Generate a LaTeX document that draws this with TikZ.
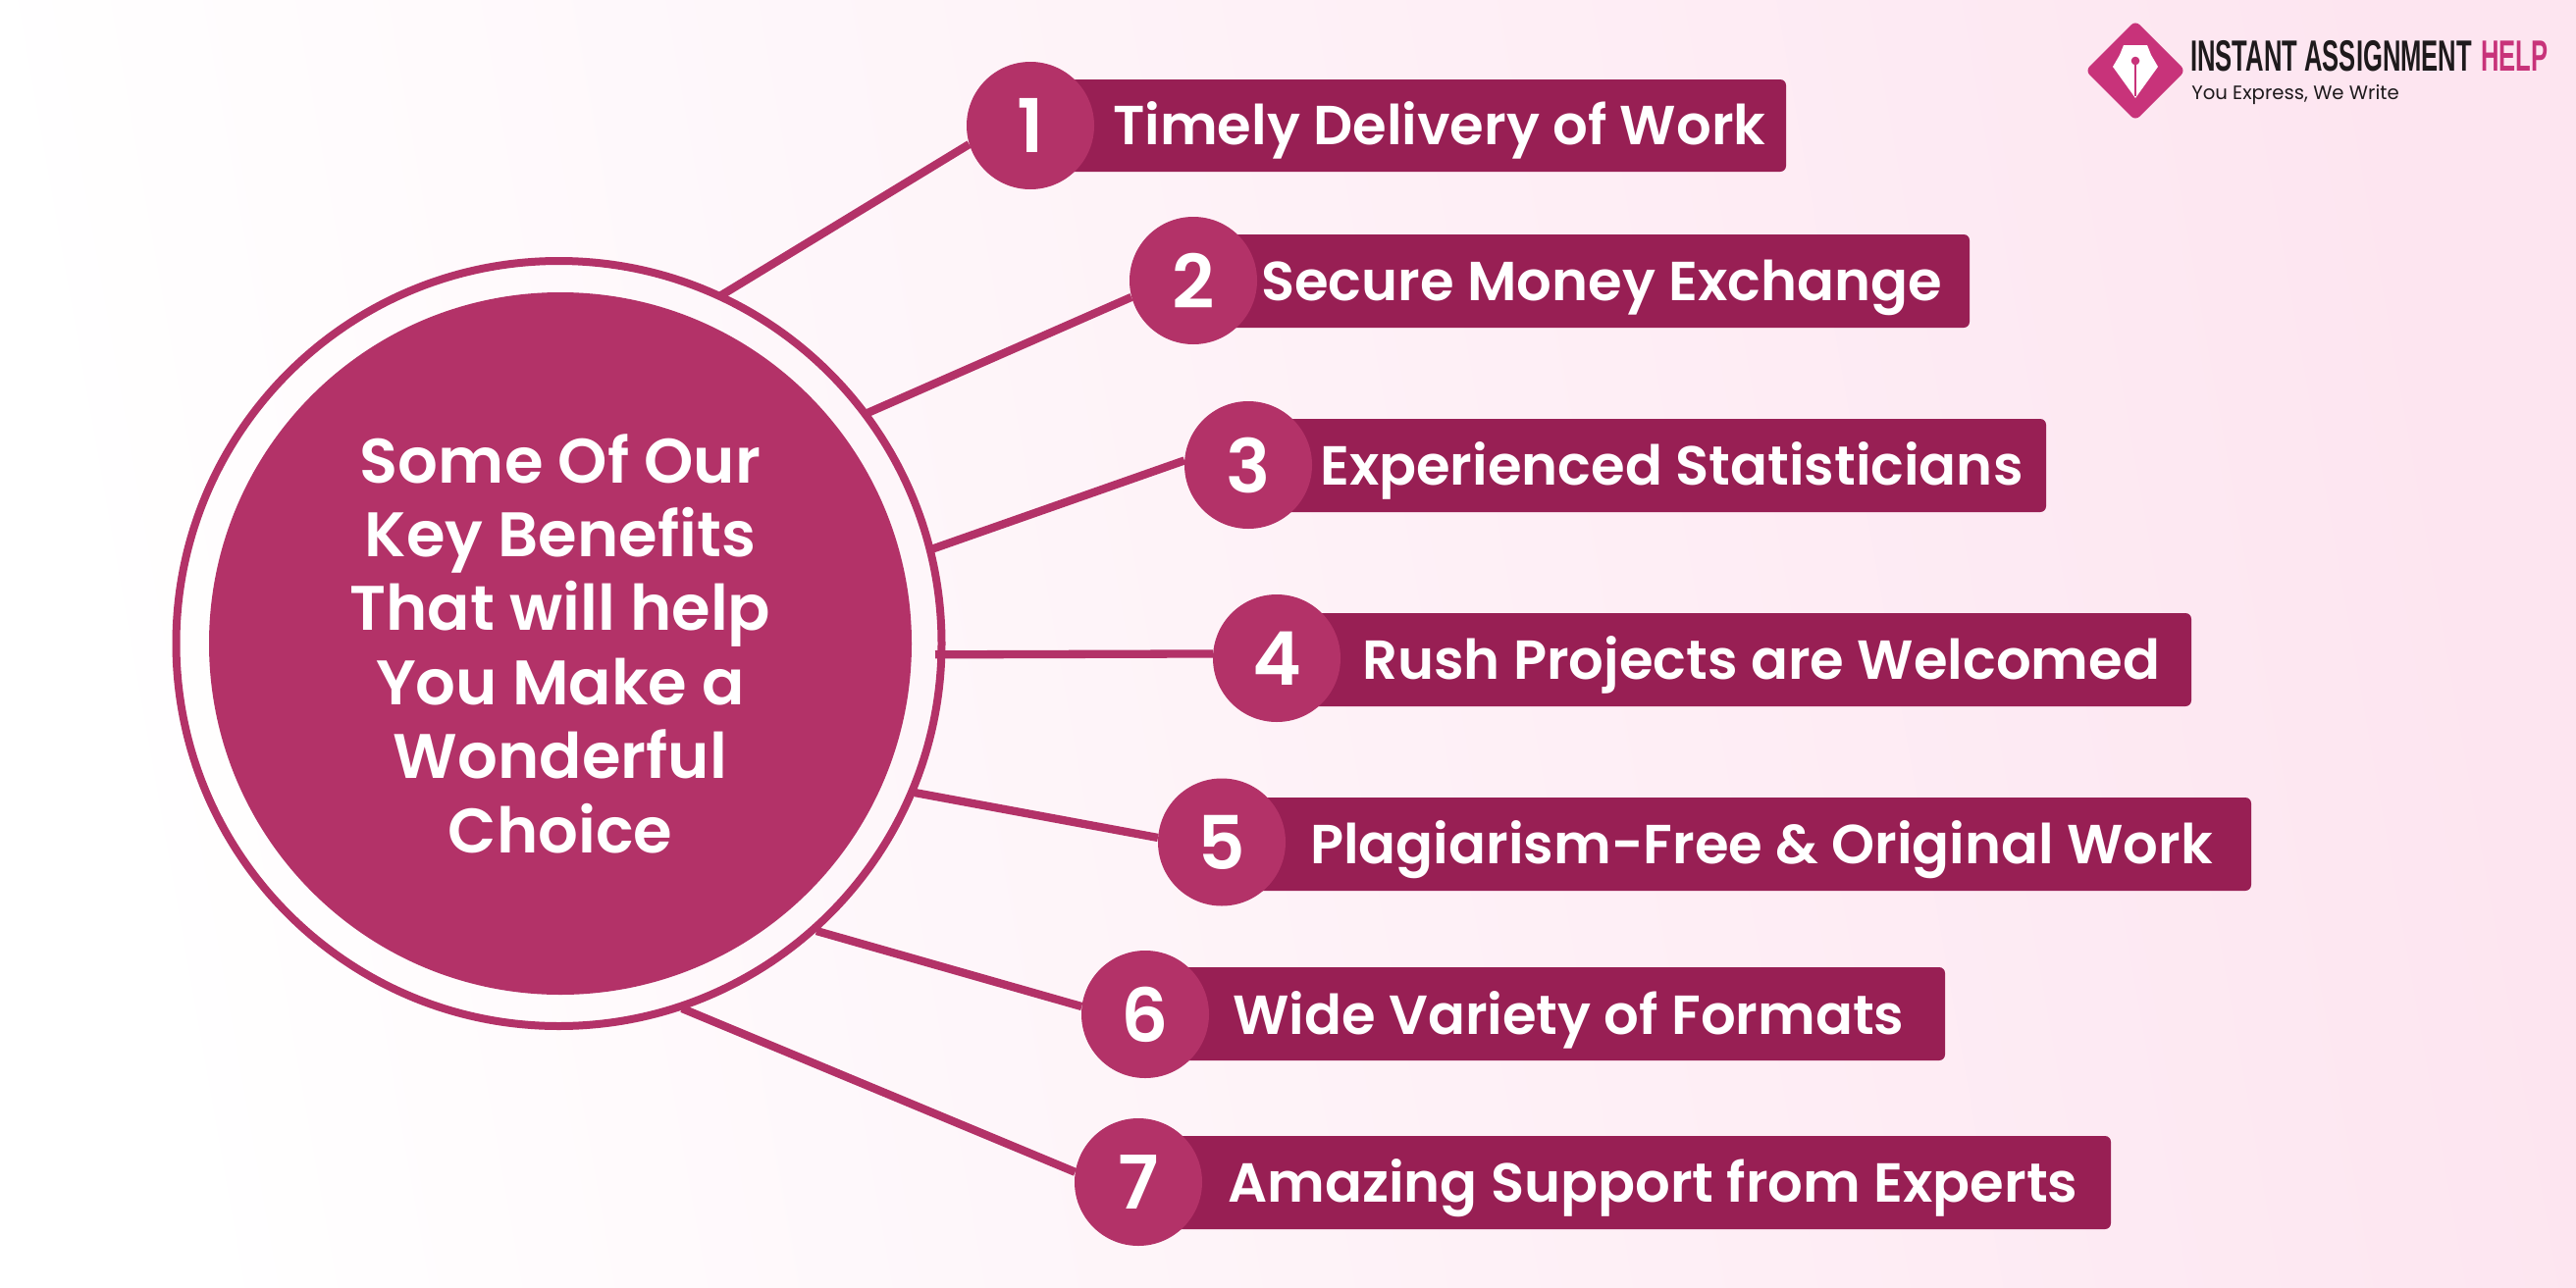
\documentclass[tikz,border=0pt]{standalone}
\usepackage{fontspec}
\setmainfont{Poppins SemiBold}
\newfontfamily\logofont[FakeStretch=0.575]{Liberation Sans Bold}
\newfontfamily\subfont{Poppins}
\definecolor{circ}{HTML}{B33268}
\definecolor{barc}{HTML}{981F54}
\definecolor{logoc}{HTML}{C8337A}
\definecolor{bgend}{HTML}{FDE5F0}
\definecolor{ink}{HTML}{1E1A1C}
\def\pxl{0.03cm}
\tikzset{
  x=0.03cm,y=-0.03cm,
  numnode/.style={circle,fill=circ,draw=none,minimum size=130*\pxl,inner sep=0pt,text=white,font=\fontsize{64.5}{64.5}\selectfont},
  barbox/.style={fill=barc,rounded corners=6*\pxl},
  barlabel/.style={anchor=base west,inner sep=0pt,text=white,font=\fontsize{47.85}{50}\selectfont},
  link/.style={draw=circ,line width=8.3*\pxl},
  hubnode/.style={circle,fill=circ,minimum size=716*\pxl,inner sep=0pt,text=white,align=center,font=\fontsize{54.7}{64.4}\selectfont},
  ringnode/.style={circle,draw=circ,line width=8*\pxl,minimum size=780*\pxl,inner sep=0pt},
}
\begin{document}
\begin{tikzpicture}
\useasboundingbox (0,0) rectangle (2625,1312);
\shade[left color=white,right color=bgend,shading angle=100] (0,0) rectangle (2625,1312);
% bars
\fill[barbox] (1050,81) rectangle (1820,175);
\fill[barbox] (1216,239) rectangle (2007,334);
\fill[barbox] (1272,427) rectangle (2085,522);
\fill[barbox] (1301,625) rectangle (2233,720);
\fill[barbox] (1245,813) rectangle (2294,908);
\fill[barbox] (1167,986) rectangle (1982,1081);
\fill[barbox] (1160,1158) rectangle (2151,1253);
% hub
\node[ringnode] (ring) at (569.5,656) {};
\node[hubnode] (hub) at (571,656) {Some Of Our\\Key Benefits\\That will help\\You Make a\\Wonderful\\Choice};
% ring points
\coordinate (r1) at (735,301);
\coordinate (r2) at (884,421);
\coordinate (r3) at (949,560);
\coordinate (r4) at (953,667.3);
\coordinate (r5) at (932,808);
\coordinate (r6) at (832,949);
\coordinate (r7) at (695,1028);
% numbers
\node[numnode] (n1) at (1050,128) {1};
\node[numnode] (n2) at (1216,286) {2};
\node[numnode] (n3) at (1272,474) {3};
\node[numnode] (n4) at (1301,671) {4};
\node[numnode] (n5) at (1245,858.5) {5};
\node[numnode] (n6) at (1167,1034) {6};
\node[numnode] (n7) at (1160,1205) {7};
% links
\draw[link] (r1) -- (n1.197);
\draw[link] (r2) -- (n2.195.6);
\draw[link] (r3) -- (n3.176.4);
\draw[link] (r4) -- (n4.176.7);
\draw[link] (r5) -- (n5.176.3);
\draw[link] (r6) -- (n6.173.5);
\draw[link] (r7) -- (n7.171);
% labels
\node[barlabel] (t1) at (1134,147) {Timely Delivery of Work};
\node[barlabel] (t2) at (1285,306) {Secure Money Exchange};
\node[barlabel] (t3) at (1345,494) {Experienced Statisticians};
\node[barlabel] (t4) at (1388,692) {Rush Projects are Welcomed};
\node[barlabel] (t5) at (1335,880) {Plagiarism-Free \& Original Work};
\node[barlabel] (t6) at (1256,1054) {Wide Variety of Formats};
\node[barlabel] (t7) at (1251,1225) {Amazing Support from Experts};
% logo
\fill[logoc,rounded corners=6*\pxl] (2176,21) -- (2227,72) -- (2176,123) -- (2125,72) -- cycle;
\fill[white] (2164,46) -- (2188,46) -- (2192,56) -- (2199,68) -- (2176,100) -- (2153,68) -- (2160,56) -- cycle;
\fill[logoc] (2176,62) circle (4.3);
\fill[logoc] (2174.8,62) rectangle (2177.2,98);
\node[anchor=base west,inner sep=0pt,text=ink,font=\logofont\fontsize{38}{38}\selectfont] (lg1) at (2232,72) {INSTANT ASSIGNMENT};
\node[anchor=base west,inner sep=0pt,text=logoc,font=\logofont\fontsize{38}{38}\selectfont] (lg2) at (2528,72) {HELP};
\node[anchor=base west,inner sep=0pt,text=ink,font=\subfont\fontsize{16.8}{20}\selectfont] (lg3) at (2233,101) {You Express, We Write};
\end{tikzpicture}
\end{document}
